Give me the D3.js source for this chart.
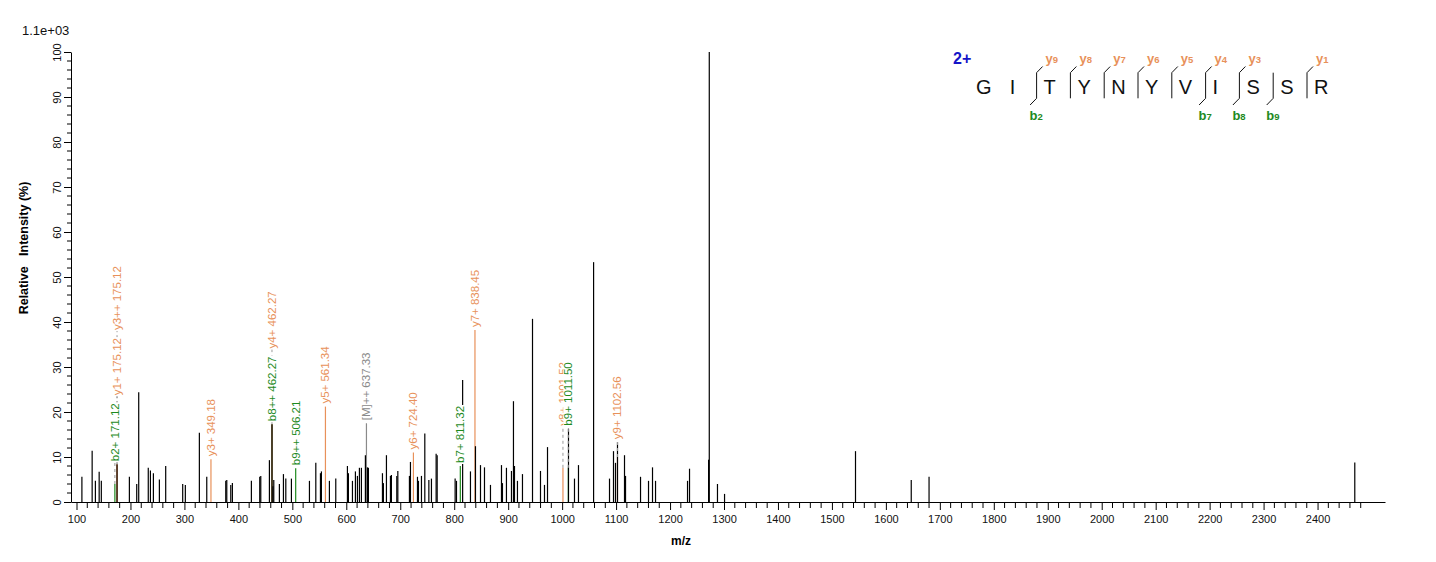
<!DOCTYPE html>
<html>
<head>
<meta charset="utf-8">
<script src="https://cdn.jsdelivr.net/npm/d3@7"></script>
<style>
  body { margin: 0; background: #fff; }
  text { font-family: "Liberation Sans", Arial, sans-serif; }
</style>
</head>
<body>
<svg id="chart" width="1436" height="562"></svg>
<script>
// Unmatched peaks (m/z, relative intensity %)
const peakMz = [110, 129, 135, 142, 146, 175.1, 198, 211.6, 215.3, 233, 237, 242.5, 253.6, 265.3,
  296.8, 301.7, 327.7, 341.4, 376.6, 378.5, 385.9, 388.9, 424.1, 439.6, 441.5, 457.5, 462.3, 464,
  465.6, 476, 483.5, 487.9, 498.3, 531.7, 543.5, 552.1, 553.9, 568.7, 580.5, 602.1, 603.9, 611.4,
  616.9, 620.6, 624.3, 628, 635.4, 639.2, 641, 667, 668.8, 674.4, 681.8, 683.6, 693.6, 695.5, 717,
  718.9, 731.9, 733.7, 739.3, 745.5, 753, 757.8, 766.5, 768.4, 801.7, 804.2, 815.6, 830.1, 839.4,
  848.7, 856.1, 867.2, 887.6, 889.4, 896.8, 906.1, 909.8, 911.7, 917.2, 926.5, 945.1, 959.9, 967.3,
  972.9, 1011.8, 1022.9, 1030.3, 1058.3, 1087.8, 1095.2, 1098.9, 1102.6, 1115.6, 1117.5, 1145.3,
  1160.1, 1167.5, 1173.1, 1232.4, 1236.1, 1271.4, 1272.7, 1287.9, 1301, 1543.7, 1647, 1680, 2469];
const peakInt = [5.6, 11.4, 4.7, 6.7, 4.7, 8.4, 5.6, 4.0, 24.4, 7.6, 7.0, 6.4, 5.0, 8.0,
  4.0, 3.8, 15.4, 5.6, 4.7, 4.9, 3.8, 4.2, 4.7, 5.6, 5.8, 9.3, 17.3, 3.5,
  4.9, 4.0, 6.2, 5.2, 5.2, 4.7, 8.7, 6.4, 6.8, 4.7, 5.2, 8.0, 6.4, 4.7,
  6.8, 5.8, 7.6, 7.6, 10.4, 7.7, 7.6, 6.4, 4.2, 10.4, 5.8, 6.0, 5.8, 6.9, 5.8,
  8.9, 5.6, 4.7, 5.8, 15.2, 4.9, 5.2, 10.7, 10.4, 5.2, 4.7, 27.1, 6.8, 12.4,
  8.2, 7.7, 3.8, 8.2, 4.2, 7.6, 6.9, 22.4, 8.0, 4.7, 6.2, 40.7, 6.9, 3.8,
  12.2, 16.3, 5.2, 8.2, 53.3, 5.2, 11.3, 8.7, 13.3, 10.4, 5.8, 5.6,
  4.7, 7.7, 4.7, 4.7, 7.4, 9.4, 100, 4.0, 1.8, 11.3, 4.9, 5.6, 8.8];

// Matched fragment ions
const annMz = [171.12, 175.12, 175.12, 349.18, 462.27, 462.27, 506.21, 561.34, 637.33, 724.40,
  811.32, 838.45, 1001.52, 1011.50, 1102.56];
const annInt = [4.0, 8.4, 8.4, 9.5, 17.3, 17.3, 7.5, 21.2, 17.5, 11.0, 8.0, 38.2, 7.6, 7.6, 10.0];
const annLabel = ["b2+ 171.12", "y1+ 175.12", "y3++ 175.12", "y3+ 349.18", "b8++ 462.27", "y4+ 462.27",
  "b9++ 506.21", "y5+ 561.34", "[M]++ 637.33", "y6+ 724.40", "b7+ 811.32", "y7+ 838.45",
  "y8+ 1001.52", "b9+ 1011.50", "y9+ 1102.56"];
const annType = ["b", "y", "y", "y", "b", "y", "b", "y", "m", "y", "b", "y", "y", "b", "y"];

const xTicks = d3.range(100, 2500, 100);
const xMinor = d3.range(100, 2500, 20);
const yTicks = d3.range(0, 101, 10);
const yMinor = d3.range(0, 101, 2);

const sequence = "GITYNYVISSR".split("");
const bIons = [2, 7, 8, 9];
const yIons = [9, 8, 7, 6, 5, 4, 3, 1];
const charge = "2+";

const colors = { y: "#e8915a", b: "#1e8a1e", m: "#8a8a8a" };

const svg = d3.select("#chart");
const x = d3.scaleLinear().domain([89.8, 2525]).range([71, 1385]);
const y = d3.scaleLinear().domain([0, 100]).range([502, 52]);

// Axes
const xAxis = svg.append("g")
  .attr("transform", `translate(0,${y(0)})`)
  .call(d3.axisBottom(x).tickValues(xTicks).tickSize(8).tickSizeOuter(0).tickPadding(5).tickFormat(d3.format("d")));
xAxis.select(".domain").attr("stroke", "#000");
xAxis.selectAll(".tick line").attr("stroke", "#000");
xAxis.selectAll(".tick text").attr("font-size", 11).attr("fill", "#111").attr("font-family", "Liberation Sans, Arial");
xAxis.append("g").selectAll("line")
  .data(xMinor.filter(d => d % 100 !== 0))
  .join("line")
  .attr("x1", d => x(d)).attr("x2", d => x(d))
  .attr("y1", 0).attr("y2", 6)
  .attr("stroke", "#000");

const yAxis = svg.append("g")
  .attr("transform", `translate(${x.range()[0]},0)`)
  .call(d3.axisLeft(y).tickValues(yTicks).tickSize(7).tickSizeOuter(0).tickFormat(d3.format("d")));
yAxis.select(".domain").attr("stroke", "#000");
yAxis.selectAll(".tick line").attr("stroke", "#000");
yAxis.selectAll(".tick text")
  .attr("transform", "rotate(-90)")
  .attr("x", 0).attr("y", -10).attr("dy", 0)
  .attr("text-anchor", "middle")
  .attr("font-size", 11).attr("fill", "#111").attr("font-family", "Liberation Sans, Arial");
yAxis.append("g").selectAll("line")
  .data(yMinor.filter(d => d % 10 !== 0))
  .join("line")
  .attr("x1", -4).attr("x2", 0)
  .attr("y1", d => y(d)).attr("y2", d => y(d))
  .attr("stroke", "#000");

// Titles
svg.append("text").attr("x", 22).attr("y", 35).attr("font-size", 13).attr("fill", "#111").text("1.1e+03");
svg.append("text")
  .attr("transform", "translate(28,248) rotate(-90)")
  .attr("text-anchor", "middle").attr("font-size", 12.5).attr("font-weight", "bold")
  .style("white-space", "pre")
  .text("Relative   Intensity (%)");
svg.append("text").attr("x", 681).attr("y", 545).attr("text-anchor", "middle")
  .attr("font-size", 12).attr("font-weight", "bold").text("m/z");

// Matched ion lines
const ann = annMz.map((mz, i) => ({ mz, int: annInt[i], label: annLabel[i], type: annType[i], i }));
svg.append("g").selectAll("line")
  .data(ann)
  .join("line")
  .attr("x1", d => x(d.mz)).attr("x2", d => x(d.mz))
  .attr("y1", y(0)).attr("y2", d => y(d.int))
  .attr("stroke", d => colors[d.type])
  .attr("stroke-width", 1.2);

// Raw peaks
svg.append("g").selectAll("line")
  .data(peakMz.map((m, i) => ({ m, v: peakInt[i] })))
  .join("line")
  .attr("x1", d => x(d.m)).attr("x2", d => x(d.m))
  .attr("y1", y(0)).attr("y2", d => y(d.v))
  .attr("stroke", "#000")
  .attr("stroke-width", 1.2);

// Labels: each ion takes the height of its matched peak; a label sits above
// the matched peaks nearby, stacks over labels at almost the same m/z,
// and has a white box so later labels cover earlier ones.
ann.forEach(a => {
  const near = peakMz.map((m, j) => (Math.abs(m - a.mz) <= 4.1 ? peakInt[j] : 0));
  a.anchor = Math.max(a.int, d3.max(near));
  a.cx = x(a.mz);
});
const dashG = svg.append("g");
const labelG = svg.append("g");
const placed = [];
ann.forEach(a => {
  const top = d3.max(ann.filter(b => Math.abs(b.cx - a.cx) < 6), b => b.anchor);
  const g = labelG.append("g");
  const box = g.append("rect").attr("fill", "#fff");
  const t = g.append("text")
    .attr("font-size", 11.5)
    .attr("fill", colors[a.type])
    .text(a.label);
  const len = t.node().getComputedTextLength();
  let bottom = y(top) - 3;
  let moved = true;
  while (moved) {
    moved = false;
    for (const p of placed) {
      if (Math.abs(p.cx - a.cx) < 4 && bottom > p.top - 4 && bottom - len < p.bottom + 4) {
        bottom = p.top - 8;
        moved = true;
      }
    }
  }
  placed.push({ cx: a.cx, top: bottom - len, bottom });
  box.attr("x", -1).attr("y", -9).attr("width", len + 2).attr("height", 11.5);
  g.attr("transform", `translate(${a.cx + 4},${bottom}) rotate(-90)`);
  if (y(a.int) - bottom > 5) {
    dashG.append("line")
      .attr("x1", a.cx).attr("x2", a.cx)
      .attr("y1", y(a.int)).attr("y2", bottom)
      .attr("stroke", "#999").attr("stroke-dasharray", "3,3");
  }
});

// Peptide sequence with fragment markers
const pep = svg.append("g");
const cellX = i => 976 + i * 33.8;
pep.append("text").attr("x", 953).attr("y", 64).attr("font-size", 16).attr("font-weight", "bold")
  .attr("fill", "#1414c8").text(charge);
pep.selectAll("text.res")
  .data(sequence)
  .join("text")
  .attr("class", "res")
  .attr("x", (d, i) => cellX(i)).attr("y", 93.5)
  .attr("font-size", 20).attr("fill", "#111")
  .text(d => d);

const n = sequence.length;
d3.range(1, n).forEach(k => {
  const hasB = bIons.includes(k);
  const hasY = yIons.includes(n - k);
  if (!hasB && !hasY) return;
  const lx = cellX(k) - 7;
  pep.append("line").attr("x1", lx).attr("x2", lx).attr("y1", 72.7).attr("y2", 98.3).attr("stroke", "#111");
  if (hasY) {
    pep.append("line").attr("x1", lx).attr("y1", 72.7).attr("x2", lx + 6).attr("y2", 66.5).attr("stroke", "#111");
    const t = pep.append("text").attr("x", lx + 9).attr("y", 63).attr("fill", colors.y).attr("font-weight", "bold");
    t.append("tspan").attr("font-size", 13).text("y");
    t.append("tspan").attr("font-size", 9.5).text(n - k);
  }
  if (hasB) {
    pep.append("line").attr("x1", lx).attr("y1", 98.3).attr("x2", lx - 6.5).attr("y2", 105).attr("stroke", "#111");
    const t = pep.append("text").attr("x", lx - 7).attr("y", 120).attr("fill", colors.b).attr("font-weight", "bold");
    t.append("tspan").attr("font-size", 13).text("b");
    t.append("tspan").attr("font-size", 9.5).text(k);
  }
});
</script>
</body>
</html>
